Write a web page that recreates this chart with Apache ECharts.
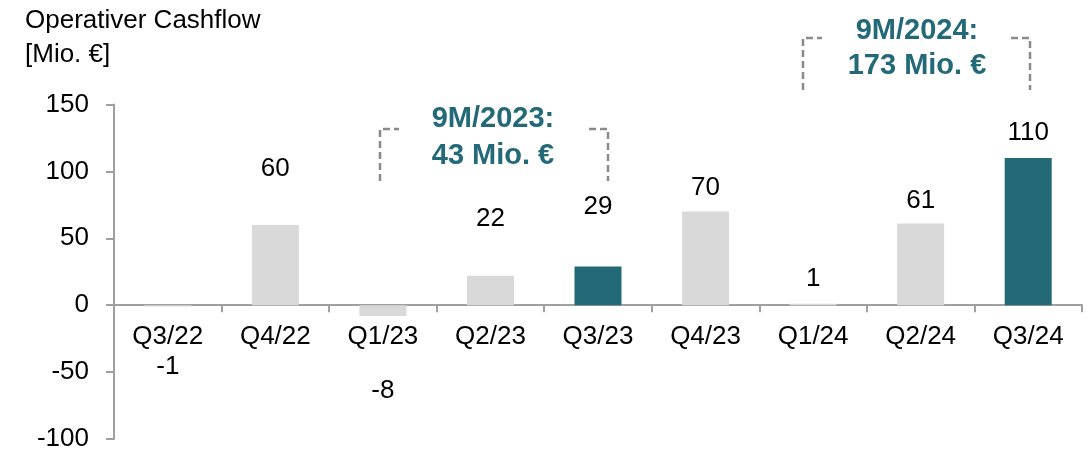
<!DOCTYPE html>
<html>
<head>
<meta charset="utf-8">
<script src="https://cdn.jsdelivr.net/npm/echarts@6/dist/echarts.min.js"></script>
<style>
  html, body { margin: 0; padding: 0; background: #ffffff; }
  #chart { width: 1089px; height: 449px; }
</style>
</head>
<body>
<div id="chart"></div>
<script>
// ---- data ----
const categories = ['Q3/22', 'Q4/22', 'Q1/23', 'Q2/23', 'Q3/23', 'Q4/23', 'Q1/24', 'Q2/24', 'Q3/24'];
const cashflow = [-1, 60, -8, 22, 29, 70, 1, 61, 110];
const highlighted = [false, false, false, false, true, false, false, false, true];
const yTicks = { min: -100, max: 150, step: 50 };
const titleLines = ['Operativer Cashflow', '[Mio. €]'];
const summary2023 = ['9M/2023:', '43 Mio. €'];
const summary2024 = ['9M/2024:', '173 Mio. €'];

// ---- styling (not data) ----
const FONT = '"Liberation Sans", Arial, sans-serif';
const TEAL = '#236978';
const GREY_BAR = '#d9d9d9';
const AXIS = '#a0a0a0';
const labelGaps = [47, 43, 62, 44, 47, 11, 12, 10, 12];

const seriesData = cashflow.map((v, i) => ({
  value: v,
  itemStyle: { color: highlighted[i] ? TEAL : GREY_BAR },
  label: { position: v < 0 ? 'bottom' : 'top', distance: labelGaps[i] }
}));

function bracket(x1, x2, yTop, yBot) {
  const style = { stroke: '#8a8a8a', lineWidth: 2.5, lineDash: [7, 4], fill: null };
  return [
    { type: 'polyline', shape: { points: [[x1, yBot], [x1, yTop], [x1 + 19, yTop]] }, style },
    { type: 'polyline', shape: { points: [[x2 - 19, yTop], [x2, yTop], [x2, yBot]] }, style }
  ];
}
function summaryText(cx, yTop, lines, lh) {
  return {
    type: 'text', x: cx, y: yTop,
    style: {
      text: lines.join('\n'), fill: TEAL, font: 'bold 29px ' + FONT,
      align: 'center', verticalAlign: 'top', lineHeight: lh
    }
  };
}

const chart = echarts.init(document.getElementById('chart'));
chart.setOption({
  animation: false,
  backgroundColor: '#ffffff',
  textStyle: { fontFamily: FONT },
  title: {
    text: titleLines.join('\n'),
    left: 20, top: -1,
    textStyle: { fontFamily: FONT, fontSize: 26, fontWeight: 'normal', color: '#000', lineHeight: 34 }
  },
  grid: { left: 114, right: 7, top: 104.5, bottom: 10, containLabel: false, outerBoundsMode: 'none' },
  xAxis: {
    type: 'category',
    data: categories,
    boundaryGap: true,
    axisLine: { show: true, onZero: true, lineStyle: { color: AXIS, width: 2 } },
    axisTick: { show: true, length: 7, alignWithLabel: false, lineStyle: { color: AXIS, width: 2 } },
    axisLabel: { color: '#000', fontSize: 26, fontFamily: FONT, margin: -115, interval: 0 },
    splitLine: { show: false }
  },
  yAxis: {
    type: 'value',
    min: yTicks.min, max: yTicks.max, interval: yTicks.step,
    axisLine: { show: true, lineStyle: { color: AXIS, width: 2 } },
    axisTick: { show: true, length: 8, lineStyle: { color: AXIS, width: 2 } },
    axisLabel: { color: '#000', fontSize: 26, fontFamily: FONT, margin: 25 },
    splitLine: { show: false }
  },
  series: [{
    type: 'bar',
    data: seriesData,
    barWidth: 47,
    label: {
      show: true, color: '#000', fontSize: 26, fontFamily: FONT,
      formatter: p => String(p.value)
    }
  }],
  graphic: [
    ...bracket(380, 608, 129, 181),
    summaryText(493, 100, summary2023, 37),
    ...bracket(803, 1030, 38, 90),
    summaryText(917, 13, summary2024, 35)
  ]
});
</script>
</body>
</html>
